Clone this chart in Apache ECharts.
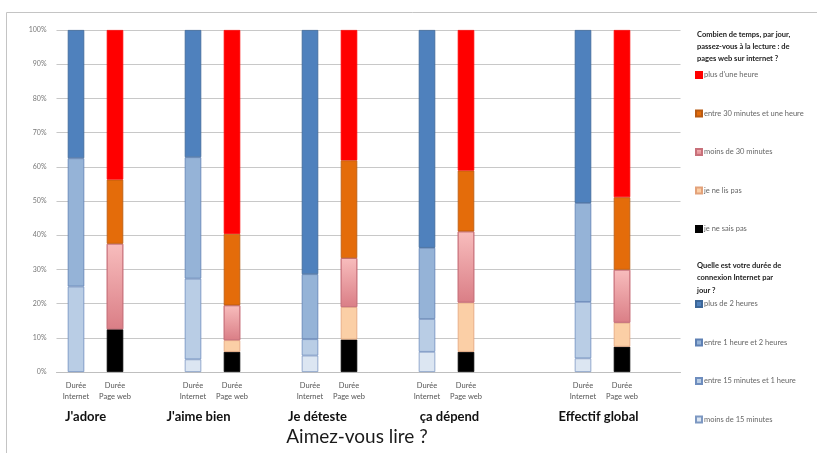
<!DOCTYPE html>
<html>
<head>
<meta charset="utf-8">
<script src="https://cdn.jsdelivr.net/npm/echarts@6/dist/echarts.min.js"></script>
<style>html,body{margin:0;padding:0;background:#fff}#c{width:817px;height:453px}</style>
</head>
<body>
<div id="c"></div>
<script>
// ---- data ----
const groups = ["J'adore", "J'aime bien", "Je déteste", "ça dépend", "Effectif global"];
const barLabels = ["Durée\nInternet", "Durée\nPage web"];
const yTicks = [0, 10, 20, 30, 40, 50, 60, 70, 80, 90, 100];

// Internet connection duration (% per group)
const netMoins15 = [0, 3.7, 4.8, 5.9, 4.0];
const net15a1h   = [25, 23.6, 4.8, 9.6, 16.5];
const net1a2h    = [37.5, 35.5, 19.0, 20.8, 28.9];
const netPlus2h  = [37.5, 37.2, 71.4, 63.7, 50.6];

// Time reading web pages (% per group)
const webNeSaisPas = [12.5, 5.9, 9.5, 5.9, 7.4];
const webNeLisPas  = [0, 3.4, 9.5, 14.4, 7.0];
const webMoins30   = [25, 10.2, 14.3, 20.8, 15.5];
const web30a1h     = [18.75, 20.9, 28.6, 17.8, 21.2];
const webPlus1h    = [43.75, 59.6, 38.1, 41.1, 48.9];

// ---- layout ----
const slotCount = 16;
const slotInternet = [0, 3, 6, 9, 13];
const slotWeb = [1, 4, 7, 10, 14];
const groupLabelDx = [-10, -14, -12, 3, -4];

const categories = [];
for (let i = 0; i < slotCount; i++) {
  if (slotInternet.includes(i)) categories.push(barLabels[0]);
  else if (slotWeb.includes(i)) categories.push(barLabels[1]);
  else categories.push('');
}
function place(vals, slots) {
  const arr = new Array(slotCount).fill('-');
  vals.forEach((v, i) => { arr[slots[i]] = v === 0 ? '-' : v; });
  return arr;
}
const pinkGrad = { type: 'linear', x: 0, y: 0, x2: 0, y2: 1,
  colorStops: [{ offset: 0, color: '#F8BDBD' }, { offset: 1, color: '#DA7E86' }] };

const seriesDefs = [
  { name: 'moins de 15 minutes', data: place(netMoins15, slotInternet), color: '#DCE6F2', border: '#7D98C2' },
  { name: 'entre 15 minutes et 1 heure', data: place(net15a1h, slotInternet), color: '#B9CDE5', border: '#6E8DBE' },
  { name: 'entre 1 heure et 2 heures', data: place(net1a2h, slotInternet), color: '#95B3D7', border: '#5E80B3' },
  { name: 'plus de 2 heures', data: place(netPlus2h, slotInternet), color: '#4F81BD', border: '#3D6798' },
  { name: 'je ne sais pas', data: place(webNeSaisPas, slotWeb), color: '#000000', border: '#000000' },
  { name: 'je ne lis pas', data: place(webNeLisPas, slotWeb), color: '#FBCFA6', border: '#E3A27A' },
  { name: 'moins de 30 minutes', data: place(webMoins30, slotWeb), color: pinkGrad, border: '#C8707A' },
  { name: 'entre 30 minutes et une heure', data: place(web30a1h, slotWeb), color: '#E46C0A', border: '#B85A12' },
  { name: "plus d'une heure", data: place(webPlus1h, slotWeb), color: '#FF0000', border: '#FF0000' }
];

const chart = echarts.init(document.getElementById('c'), null, { renderer: 'canvas' });
const FONT = 'Lato, "Open Sans", sans-serif';

chart.setOption({
  animation: false,
  backgroundColor: '#ffffff',
  textStyle: { fontFamily: FONT },
  grid: { left: 56.5, right: 136.5, top: 30, bottom: 81, containLabel: false },
  xAxis: {
    type: 'category',
    data: categories,
    boundaryGap: true,
    axisLine: { lineStyle: { color: '#BFBFBF', width: 1 } },
    axisTick: { show: false },
    axisLabel: { interval: 0, fontSize: 7.5, color: '#555', lineHeight: 11, margin: 8, fontFamily: FONT }
  },
  yAxis: {
    type: 'value',
    min: 0, max: 100, interval: 10,
    axisLine: { show: false },
    axisTick: { show: false },
    axisLabel: { fontSize: 7, color: '#777', margin: 10, formatter: v => yTicks.includes(v) ? v + '%' : '' },
    splitLine: { lineStyle: { color: '#C8C8C8', width: 1.2 } }
  },
  legend: [
    {
      orient: 'vertical', left: 690, top: 66,
      itemWidth: 6, itemHeight: 6, itemGap: 30.5,
      icon: 'rect',
      textStyle: { fontSize: 7.5, color: '#666', padding: [0, 0, 0, -3] },
      data: ["plus d'une heure", 'entre 30 minutes et une heure', 'moins de 30 minutes', 'je ne lis pas', 'je ne sais pas']
    },
    {
      orient: 'vertical', left: 690, top: 295,
      itemWidth: 6, itemHeight: 6, itemGap: 30.5,
      icon: 'rect',
      textStyle: { fontSize: 7.5, color: '#666', padding: [0, 0, 0, -3] },
      data: ['plus de 2 heures', 'entre 1 heure et 2 heures', 'entre 15 minutes et 1 heure', 'moins de 15 minutes']
    }
  ],
  series: seriesDefs.map(s => ({
    name: s.name,
    type: 'bar',
    stack: 'total',
    barWidth: 16.5,
    data: s.data,
    itemStyle: { color: s.color, borderColor: s.border, borderWidth: 0.8 },
    emphasis: { disabled: true }
  }))
});

// group labels and titles
const gfx = [
  { type: 'rect', shape: { x: 6.5, y: 12.5, width: 830, height: 460 }, style: { fill: 'none', stroke: '#C4C4C4', lineWidth: 1 }, silent: true },
  { type: 'text', left: 697, top: 29, style: { text: 'Combien de temps, par jour,\npassez-vous à la lecture : de\npages web sur internet ?', font: 'bold 7.5px ' + FONT, fill: '#222', lineHeight: 12 } },
  { type: 'text', left: 697, top: 259, style: { text: 'Quelle est votre durée de\nconnexion Internet par\njour ?', font: 'bold 7.5px ' + FONT, fill: '#222', lineHeight: 12.5 } }
];
groups.forEach((g, i) => {
  const x1 = chart.convertToPixel({ xAxisIndex: 0 }, slotInternet[i]);
  const x2 = chart.convertToPixel({ xAxisIndex: 0 }, slotWeb[i]);
  gfx.push({ type: 'text', x: (x1 + x2) / 2 + groupLabelDx[i], y: 417,
    style: { text: g, font: 'bold 13px ' + FONT, fill: '#111', align: 'center', verticalAlign: 'middle' } });
});
const xa = chart.convertToPixel({ xAxisIndex: 0 }, 0);
const xb = chart.convertToPixel({ xAxisIndex: 0 }, 14);
gfx.push({ type: 'text', x: (xa + xb) / 2 + 8, y: 437,
  style: { text: 'Aimez-vous lire ?', font: '19px ' + FONT, fill: '#1a1a1a', align: 'center', verticalAlign: 'middle' } });
chart.setOption({ graphic: gfx });
</script>
</body>
</html>
